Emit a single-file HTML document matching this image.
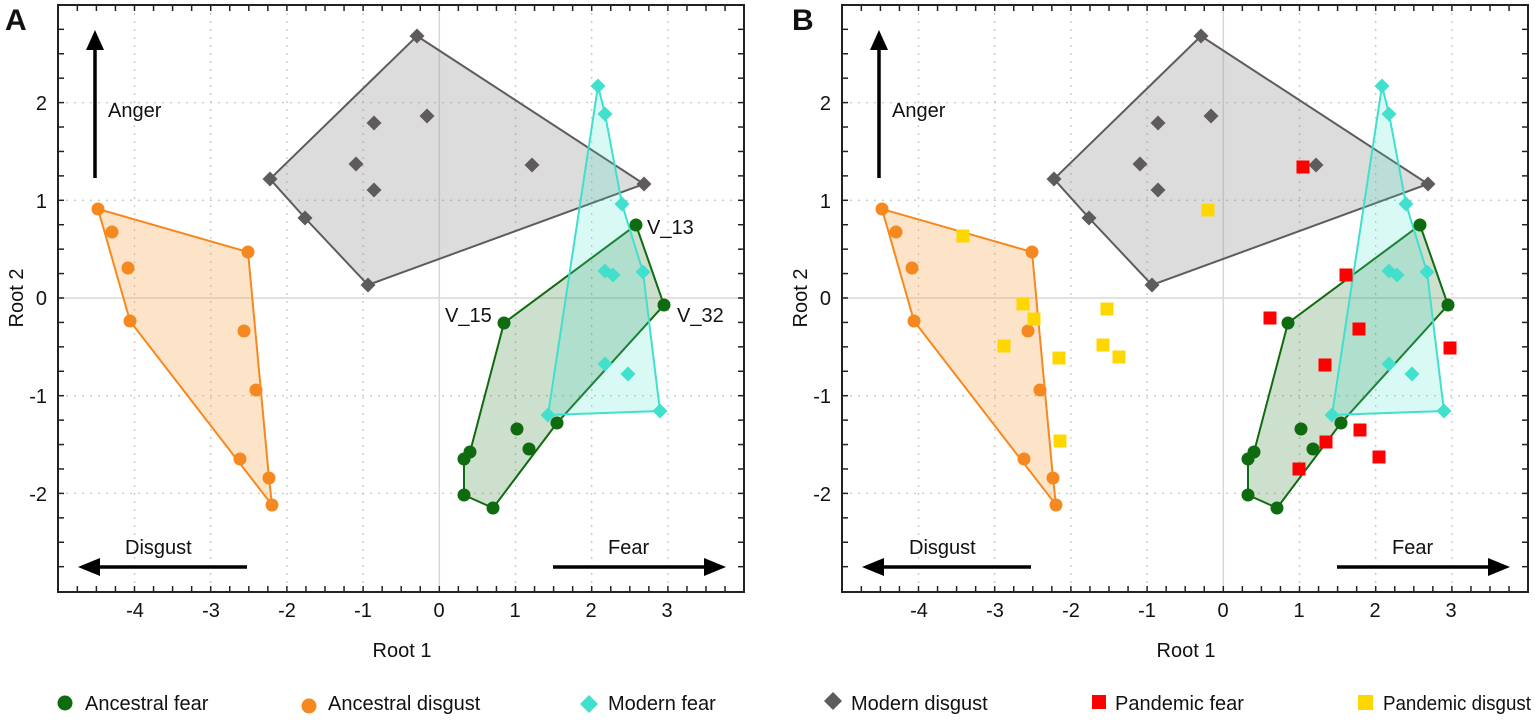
<!DOCTYPE html>
<html><head><meta charset="utf-8">
<style>
html,body{margin:0;padding:0;background:#fff;}
svg{display:block;}
text{font-family:"Liberation Sans",sans-serif;fill:#111;}
</style></head>
<body>
<svg id="s" width="1535" height="722" viewBox="0 0 1535 722" xmlns="http://www.w3.org/2000/svg">
<defs>
<g id="panel">
  <rect x="58" y="5" width="686" height="587" fill="#fff"/>
  <g id="grid"></g>
  <polygon points="417,36 644,184 368,285 305,218 270,179" fill="#8c8c8c" fill-opacity="0.3" stroke="#5f5b5b" stroke-width="2"/>
  <polygon points="98,209 248,252 269,478 272,505 130,321" fill="#f7a14a" fill-opacity="0.3" stroke="#f5891f" stroke-width="2"/>
  <polygon points="636,225 664,305 557,423 493,508 464,495 464,459 470,452 504,323" fill="#1d6e1d" fill-opacity="0.22" stroke="#0f6b0f" stroke-width="2"/>
  <polygon points="598,86 605,114 622,204 643,272 660,411 548,415" fill="#40e0cc" fill-opacity="0.2" stroke="#40e0cc" stroke-width="2"/>
  <g id="mk"></g>
  <g id="ticks"></g>
  <rect x="58" y="5" width="686" height="587" fill="none" stroke="#222" stroke-width="2"/>
  <line x1="95" y1="178" x2="95" y2="48" stroke="#000" stroke-width="3.5"/>
  <polygon points="95,30 86,50 104,50" fill="#000"/>
  <line x1="247" y1="567" x2="96" y2="567" stroke="#000" stroke-width="3.5"/>
  <polygon points="78,567 100,558 100,576" fill="#000"/>
  <line x1="553" y1="567" x2="708" y2="567" stroke="#000" stroke-width="3.5"/>
  <polygon points="726,567 704,558 704,576" fill="#000"/>
</g>
</defs>
<use href="#panel"/>
<use href="#panel" transform="translate(784,0)"/>
<g id="extra"></g>

<text x="5" y="30" font-size="30" font-weight="bold">A</text>
<text x="108" y="117" font-size="20">Anger</text>
<text x="125" y="554" font-size="20">Disgust</text>
<text x="608" y="554" font-size="20">Fear</text>
<text x="647" y="234" font-size="20">V_13</text>
<text x="445" y="322" font-size="20">V_15</text>
<text x="677" y="322" font-size="20">V_32</text>
<g font-size="20" text-anchor="middle">
<text x="135" y="617">-4</text><text x="211" y="617">-3</text><text x="287" y="617">-2</text><text x="363" y="617">-1</text><text x="439" y="617">0</text><text x="515" y="617">1</text><text x="591" y="617">2</text><text x="667" y="617">3</text>
</g>
<g font-size="20" text-anchor="end">
<text x="47" y="110">2</text><text x="47" y="208">1</text><text x="47" y="305">0</text><text x="47" y="403">-1</text><text x="47" y="501">-2</text>
</g>
<text x="402" y="657" font-size="20" text-anchor="middle">Root 1</text>
<text transform="translate(23,298) rotate(-90)" font-size="20" text-anchor="middle">Root 2</text>

<text x="792" y="30" font-size="30" font-weight="bold">B</text>
<text x="892" y="117" font-size="20">Anger</text>
<text x="909" y="554" font-size="20">Disgust</text>
<text x="1392" y="554" font-size="20">Fear</text>
<g font-size="20" text-anchor="middle">
<text x="919" y="617">-4</text><text x="995" y="617">-3</text><text x="1071" y="617">-2</text><text x="1147" y="617">-1</text><text x="1223" y="617">0</text><text x="1299" y="617">1</text><text x="1375" y="617">2</text><text x="1451" y="617">3</text>
</g>
<g font-size="20" text-anchor="end">
<text x="831" y="110">2</text><text x="831" y="208">1</text><text x="831" y="305">0</text><text x="831" y="403">-1</text><text x="831" y="501">-2</text>
</g>
<text x="1186" y="657" font-size="20" text-anchor="middle">Root 1</text>
<text transform="translate(807,298) rotate(-90)" font-size="20" text-anchor="middle">Root 2</text>

<circle cx="65" cy="703" r="7.5" fill="#0f6b0f"/>
<text x="85" y="710" font-size="20">Ancestral fear</text>
<circle cx="309" cy="706" r="7.5" fill="#f5891f"/>
<text x="328" y="710" font-size="20">Ancestral disgust</text>
<polygon points="589,695 598,704 589,713 580,704" fill="#40e0cc"/>
<text x="608" y="710" font-size="20">Modern fear</text>
<polygon points="833,692 842,701 833,710 824,701" fill="#5f5b5b"/>
<text x="851" y="710" font-size="20">Modern disgust</text>
<rect x="1092" y="695" width="14" height="14" fill="#ff0000"/>
<text x="1115" y="710" font-size="20">Pandemic fear</text>
<rect x="1358" y="695" width="15" height="15" fill="#ffd700"/>
<text x="1383" y="710" font-size="20" textLength="148" lengthAdjust="spacingAndGlyphs">Pandemic disgust</text>

<script>
(function(){
var NS="http://www.w3.org/2000/svg";
function el(p,t,a){var e=document.createElementNS(NS,t);for(var k in a)e.setAttribute(k,a[k]);p.appendChild(e);return e;}
var X=function(v){return 439.3+76.2*v;}, Y=function(v){return 298-97.7*v;};
var g=document.getElementById('grid');
for(var i=-4;i<=3;i++){if(i==0)continue;el(g,'line',{x1:X(i),x2:X(i),y1:5,y2:592,stroke:'#c8c8c8','stroke-width':1.3,'stroke-dasharray':'2,6'});}
for(var j=-2;j<=2;j++){if(j==0)continue;el(g,'line',{y1:Y(j),y2:Y(j),x1:58,x2:744,stroke:'#c8c8c8','stroke-width':1.3,'stroke-dasharray':'2,6'});}
el(g,'line',{x1:X(0),x2:X(0),y1:5,y2:592,stroke:'#d8d8d8','stroke-width':1.5});
el(g,'line',{y1:Y(0),y2:Y(0),x1:58,x2:744,stroke:'#d8d8d8','stroke-width':1.5});
var t=document.getElementById('ticks');
for(var v=-5;v<=4.001;v+=0.25){var x=X(v);if(x<59||x>743)continue;
 el(t,'line',{x1:x,x2:x,y1:592,y2:586,stroke:'#222','stroke-width':1.5});
 el(t,'line',{x1:x,x2:x,y1:5,y2:11,stroke:'#222','stroke-width':1.5});}
for(var v=-3;v<=3.001;v+=0.25){var y=Y(v);if(y<6||y>591)continue;
 el(t,'line',{y1:y,y2:y,x1:58,x2:64,stroke:'#222','stroke-width':1.5});
 el(t,'line',{y1:y,y2:y,x1:744,x2:738,stroke:'#222','stroke-width':1.5});}
var m=document.getElementById('mk');
function circ(p,c){p.forEach(function(q){el(m,'circle',{cx:q[0],cy:q[1],r:6.5,fill:c});});}
function diaP(p,c,par){p.forEach(function(q){var x=q[0],y=q[1],d=7.5;el(par,'polygon',{points:x+','+(y-d)+' '+(x+d)+','+y+' '+x+','+(y+d)+' '+(x-d)+','+y,fill:c});});}
circ([[98,209],[112,232],[128,268],[130,321],[248,252],[244,331],[256,390],[240,459],[269,478],[272,505]],'#f5891f');
diaP([[417,36],[270,179],[305,218],[368,285],[644,184],[356,164],[374,123],[374,190],[427,116],[532,165]],'#5f5b5b',m);
diaP([[598,86],[605,114],[622,204],[605,271],[613,275],[643,272],[605,364],[628,374],[660,411],[548,415]],'#40e0cc',m);
circ([[636,225],[664,305],[504,323],[464,459],[470,452],[464,495],[493,508],[557,423],[517,429],[529,449]],'#0f6b0f');
var ex=document.getElementById('extra');
[[1303,167],[1346,275],[1270,318],[1359,329],[1325,365],[1450,348],[1360,430],[1326,442],[1379,457],[1299,469]].forEach(function(q){el(ex,'rect',{x:q[0]-6.5,y:q[1]-6.5,width:13,height:13,fill:'#ff0000'});});
[[1208,210],[963,236],[1023,304],[1034,319],[1107,309],[1004,346],[1059,358],[1103,345],[1119,357],[1060,441]].forEach(function(q){el(ex,'rect',{x:q[0]-6.5,y:q[1]-6.5,width:13,height:13,fill:'#ffd700'});});
})();
</script>
</svg>
</body></html>
